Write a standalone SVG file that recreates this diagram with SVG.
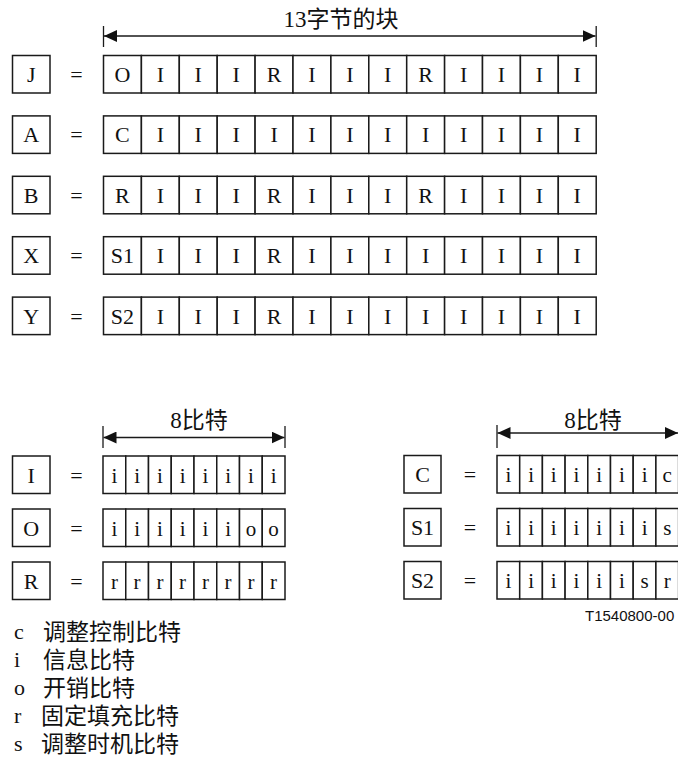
<svg xmlns="http://www.w3.org/2000/svg" width="678" height="763" viewBox="0 0 678 763">
<style>
.bx{fill:#fff;stroke:#1a1a1a;stroke-width:1.5}
.t{font-family:"Liberation Serif","Noto Sans CJK SC",serif;font-size:22px;fill:#111;text-anchor:middle}
.ts{font-family:"Liberation Serif","Noto Sans CJK SC",serif;font-size:21px;fill:#111;text-anchor:middle}
.hd{font-family:"Liberation Serif","Noto Sans CJK SC",serif;font-size:23px;fill:#111;text-anchor:middle}
.lg{font-family:"Liberation Serif",serif;font-size:22px;fill:#111}
.lc{font-family:"Noto Sans CJK SC",sans-serif;font-size:23px;fill:#111}
.ref{font-family:"Liberation Sans",Arial,sans-serif;font-size:15px;fill:#111}
.ln{stroke:#1a1a1a;stroke-width:1.3;fill:none}
</style>
<defs>
<marker id="ah" viewBox="0 0 13 12" refX="13" refY="6" markerWidth="13" markerHeight="12" markerUnits="userSpaceOnUse" orient="auto-start-reverse">
<path d="M0,0 L13,6 L0,12 z" fill="#111"/>
</marker>
</defs>

<g id="connectors">
<line class="ln" x1="104" y1="36" x2="595.5" y2="36" marker-start="url(#ah)" marker-end="url(#ah)"/>
<line class="ln" x1="103.5" y1="26" x2="103.5" y2="47"/>
<line class="ln" x1="596.2" y1="26" x2="596.2" y2="47"/>
<line class="ln" x1="103.5" y1="437.5" x2="284.5" y2="437.5" marker-start="url(#ah)" marker-end="url(#ah)"/>
<line class="ln" x1="103" y1="426" x2="103" y2="448"/>
<line class="ln" x1="285" y1="426" x2="285" y2="448"/>
<line class="ln" x1="497.5" y1="433" x2="678" y2="433" marker-start="url(#ah)" marker-end="url(#ah)"/>
<line class="ln" x1="497" y1="425" x2="497" y2="448"/>
</g>

<g id="titles">
<text class="hd" x="341" y="27">13字节的块</text>
<text class="hd" x="199" y="428">8比特</text>
<text class="hd" x="593" y="428">8比特</text>
</g>

<g id="row-J">
<rect class="bx" x="12.5" y="55.5" width="37.5" height="37.5"/><text class="t" x="31.2" y="82">J</text>
<text class="t" x="76.5" y="82">=</text>
<rect class="bx" x="103.5" y="55.5" width="37.9" height="37.5"/><text class="t" x="122.45" y="82">O</text>
<rect class="bx" x="141.4" y="55.5" width="37.9" height="37.5"/><text class="t" x="160.35" y="82">I</text>
<rect class="bx" x="179.3" y="55.5" width="37.9" height="37.5"/><text class="t" x="198.25" y="82">I</text>
<rect class="bx" x="217.2" y="55.5" width="37.9" height="37.5"/><text class="t" x="236.15" y="82">I</text>
<rect class="bx" x="255.1" y="55.5" width="37.9" height="37.5"/><text class="t" x="274.05" y="82">R</text>
<rect class="bx" x="293" y="55.5" width="37.9" height="37.5"/><text class="t" x="311.95" y="82">I</text>
<rect class="bx" x="330.9" y="55.5" width="37.9" height="37.5"/><text class="t" x="349.85" y="82">I</text>
<rect class="bx" x="368.8" y="55.5" width="37.9" height="37.5"/><text class="t" x="387.75" y="82">I</text>
<rect class="bx" x="406.7" y="55.5" width="37.9" height="37.5"/><text class="t" x="425.65" y="82">R</text>
<rect class="bx" x="444.6" y="55.5" width="37.9" height="37.5"/><text class="t" x="463.55" y="82">I</text>
<rect class="bx" x="482.5" y="55.5" width="37.9" height="37.5"/><text class="t" x="501.45" y="82">I</text>
<rect class="bx" x="520.4" y="55.5" width="37.9" height="37.5"/><text class="t" x="539.35" y="82">I</text>
<rect class="bx" x="558.3" y="55.5" width="37.9" height="37.5"/><text class="t" x="577.25" y="82">I</text>
</g>

<g id="row-A">
<rect class="bx" x="12.5" y="115.9" width="37.5" height="37.5"/><text class="t" x="31.2" y="142.4">A</text>
<text class="t" x="76.5" y="142.4">=</text>
<rect class="bx" x="103.5" y="115.9" width="37.9" height="37.5"/><text class="t" x="122.45" y="142.4">C</text>
<rect class="bx" x="141.4" y="115.9" width="37.9" height="37.5"/><text class="t" x="160.35" y="142.4">I</text>
<rect class="bx" x="179.3" y="115.9" width="37.9" height="37.5"/><text class="t" x="198.25" y="142.4">I</text>
<rect class="bx" x="217.2" y="115.9" width="37.9" height="37.5"/><text class="t" x="236.15" y="142.4">I</text>
<rect class="bx" x="255.1" y="115.9" width="37.9" height="37.5"/><text class="t" x="274.05" y="142.4">I</text>
<rect class="bx" x="293" y="115.9" width="37.9" height="37.5"/><text class="t" x="311.95" y="142.4">I</text>
<rect class="bx" x="330.9" y="115.9" width="37.9" height="37.5"/><text class="t" x="349.85" y="142.4">I</text>
<rect class="bx" x="368.8" y="115.9" width="37.9" height="37.5"/><text class="t" x="387.75" y="142.4">I</text>
<rect class="bx" x="406.7" y="115.9" width="37.9" height="37.5"/><text class="t" x="425.65" y="142.4">I</text>
<rect class="bx" x="444.6" y="115.9" width="37.9" height="37.5"/><text class="t" x="463.55" y="142.4">I</text>
<rect class="bx" x="482.5" y="115.9" width="37.9" height="37.5"/><text class="t" x="501.45" y="142.4">I</text>
<rect class="bx" x="520.4" y="115.9" width="37.9" height="37.5"/><text class="t" x="539.35" y="142.4">I</text>
<rect class="bx" x="558.3" y="115.9" width="37.9" height="37.5"/><text class="t" x="577.25" y="142.4">I</text>
</g>

<g id="row-B">
<rect class="bx" x="12.5" y="176.3" width="37.5" height="37.5"/><text class="t" x="31.2" y="202.8">B</text>
<text class="t" x="76.5" y="202.8">=</text>
<rect class="bx" x="103.5" y="176.3" width="37.9" height="37.5"/><text class="t" x="122.45" y="202.8">R</text>
<rect class="bx" x="141.4" y="176.3" width="37.9" height="37.5"/><text class="t" x="160.35" y="202.8">I</text>
<rect class="bx" x="179.3" y="176.3" width="37.9" height="37.5"/><text class="t" x="198.25" y="202.8">I</text>
<rect class="bx" x="217.2" y="176.3" width="37.9" height="37.5"/><text class="t" x="236.15" y="202.8">I</text>
<rect class="bx" x="255.1" y="176.3" width="37.9" height="37.5"/><text class="t" x="274.05" y="202.8">R</text>
<rect class="bx" x="293" y="176.3" width="37.9" height="37.5"/><text class="t" x="311.95" y="202.8">I</text>
<rect class="bx" x="330.9" y="176.3" width="37.9" height="37.5"/><text class="t" x="349.85" y="202.8">I</text>
<rect class="bx" x="368.8" y="176.3" width="37.9" height="37.5"/><text class="t" x="387.75" y="202.8">I</text>
<rect class="bx" x="406.7" y="176.3" width="37.9" height="37.5"/><text class="t" x="425.65" y="202.8">R</text>
<rect class="bx" x="444.6" y="176.3" width="37.9" height="37.5"/><text class="t" x="463.55" y="202.8">I</text>
<rect class="bx" x="482.5" y="176.3" width="37.9" height="37.5"/><text class="t" x="501.45" y="202.8">I</text>
<rect class="bx" x="520.4" y="176.3" width="37.9" height="37.5"/><text class="t" x="539.35" y="202.8">I</text>
<rect class="bx" x="558.3" y="176.3" width="37.9" height="37.5"/><text class="t" x="577.25" y="202.8">I</text>
</g>

<g id="row-X">
<rect class="bx" x="12.5" y="236.7" width="37.5" height="37.5"/><text class="t" x="31.2" y="263.2">X</text>
<text class="t" x="76.5" y="263.2">=</text>
<rect class="bx" x="103.5" y="236.7" width="37.9" height="37.5"/><text class="t" x="122.45" y="263.2">S1</text>
<rect class="bx" x="141.4" y="236.7" width="37.9" height="37.5"/><text class="t" x="160.35" y="263.2">I</text>
<rect class="bx" x="179.3" y="236.7" width="37.9" height="37.5"/><text class="t" x="198.25" y="263.2">I</text>
<rect class="bx" x="217.2" y="236.7" width="37.9" height="37.5"/><text class="t" x="236.15" y="263.2">I</text>
<rect class="bx" x="255.1" y="236.7" width="37.9" height="37.5"/><text class="t" x="274.05" y="263.2">R</text>
<rect class="bx" x="293" y="236.7" width="37.9" height="37.5"/><text class="t" x="311.95" y="263.2">I</text>
<rect class="bx" x="330.9" y="236.7" width="37.9" height="37.5"/><text class="t" x="349.85" y="263.2">I</text>
<rect class="bx" x="368.8" y="236.7" width="37.9" height="37.5"/><text class="t" x="387.75" y="263.2">I</text>
<rect class="bx" x="406.7" y="236.7" width="37.9" height="37.5"/><text class="t" x="425.65" y="263.2">I</text>
<rect class="bx" x="444.6" y="236.7" width="37.9" height="37.5"/><text class="t" x="463.55" y="263.2">I</text>
<rect class="bx" x="482.5" y="236.7" width="37.9" height="37.5"/><text class="t" x="501.45" y="263.2">I</text>
<rect class="bx" x="520.4" y="236.7" width="37.9" height="37.5"/><text class="t" x="539.35" y="263.2">I</text>
<rect class="bx" x="558.3" y="236.7" width="37.9" height="37.5"/><text class="t" x="577.25" y="263.2">I</text>
</g>

<g id="row-Y">
<rect class="bx" x="12.5" y="297.1" width="37.5" height="37.5"/><text class="t" x="31.2" y="323.6">Y</text>
<text class="t" x="76.5" y="323.6">=</text>
<rect class="bx" x="103.5" y="297.1" width="37.9" height="37.5"/><text class="t" x="122.45" y="323.6">S2</text>
<rect class="bx" x="141.4" y="297.1" width="37.9" height="37.5"/><text class="t" x="160.35" y="323.6">I</text>
<rect class="bx" x="179.3" y="297.1" width="37.9" height="37.5"/><text class="t" x="198.25" y="323.6">I</text>
<rect class="bx" x="217.2" y="297.1" width="37.9" height="37.5"/><text class="t" x="236.15" y="323.6">I</text>
<rect class="bx" x="255.1" y="297.1" width="37.9" height="37.5"/><text class="t" x="274.05" y="323.6">R</text>
<rect class="bx" x="293" y="297.1" width="37.9" height="37.5"/><text class="t" x="311.95" y="323.6">I</text>
<rect class="bx" x="330.9" y="297.1" width="37.9" height="37.5"/><text class="t" x="349.85" y="323.6">I</text>
<rect class="bx" x="368.8" y="297.1" width="37.9" height="37.5"/><text class="t" x="387.75" y="323.6">I</text>
<rect class="bx" x="406.7" y="297.1" width="37.9" height="37.5"/><text class="t" x="425.65" y="323.6">I</text>
<rect class="bx" x="444.6" y="297.1" width="37.9" height="37.5"/><text class="t" x="463.55" y="323.6">I</text>
<rect class="bx" x="482.5" y="297.1" width="37.9" height="37.5"/><text class="t" x="501.45" y="323.6">I</text>
<rect class="bx" x="520.4" y="297.1" width="37.9" height="37.5"/><text class="t" x="539.35" y="323.6">I</text>
<rect class="bx" x="558.3" y="297.1" width="37.9" height="37.5"/><text class="t" x="577.25" y="323.6">I</text>
</g>

<g id="byte-I">
<rect class="bx" x="12.5" y="456" width="37.5" height="37.5"/><text class="t" x="31.2" y="482.5">I</text>
<text class="t" x="76.5" y="482.5">=</text>
<rect class="bx" x="103" y="456" width="22.75" height="37.5"/><text class="ts" x="114.4" y="482.5">i</text>
<rect class="bx" x="125.75" y="456" width="22.75" height="37.5"/><text class="ts" x="137.1" y="482.5">i</text>
<rect class="bx" x="148.5" y="456" width="22.75" height="37.5"/><text class="ts" x="159.9" y="482.5">i</text>
<rect class="bx" x="171.25" y="456" width="22.75" height="37.5"/><text class="ts" x="182.6" y="482.5">i</text>
<rect class="bx" x="194" y="456" width="22.75" height="37.5"/><text class="ts" x="205.4" y="482.5">i</text>
<rect class="bx" x="216.75" y="456" width="22.75" height="37.5"/><text class="ts" x="228.1" y="482.5">i</text>
<rect class="bx" x="239.5" y="456" width="22.75" height="37.5"/><text class="ts" x="250.9" y="482.5">i</text>
<rect class="bx" x="262.25" y="456" width="22.75" height="37.5"/><text class="ts" x="273.6" y="482.5">i</text>
</g>

<g id="byte-O">
<rect class="bx" x="12.5" y="509" width="37.5" height="37.5"/><text class="t" x="31.2" y="535.5">O</text>
<text class="t" x="76.5" y="535.5">=</text>
<rect class="bx" x="103" y="509" width="22.75" height="37.5"/><text class="ts" x="114.4" y="535.5">i</text>
<rect class="bx" x="125.75" y="509" width="22.75" height="37.5"/><text class="ts" x="137.1" y="535.5">i</text>
<rect class="bx" x="148.5" y="509" width="22.75" height="37.5"/><text class="ts" x="159.9" y="535.5">i</text>
<rect class="bx" x="171.25" y="509" width="22.75" height="37.5"/><text class="ts" x="182.6" y="535.5">i</text>
<rect class="bx" x="194" y="509" width="22.75" height="37.5"/><text class="ts" x="205.4" y="535.5">i</text>
<rect class="bx" x="216.75" y="509" width="22.75" height="37.5"/><text class="ts" x="228.1" y="535.5">i</text>
<rect class="bx" x="239.5" y="509" width="22.75" height="37.5"/><text class="ts" x="250.9" y="535.5">o</text>
<rect class="bx" x="262.25" y="509" width="22.75" height="37.5"/><text class="ts" x="273.6" y="535.5">o</text>
</g>

<g id="byte-R">
<rect class="bx" x="12.5" y="562" width="37.5" height="37.5"/><text class="t" x="31.2" y="588.5">R</text>
<text class="t" x="76.5" y="588.5">=</text>
<rect class="bx" x="103" y="562" width="22.75" height="37.5"/><text class="ts" x="114.4" y="588.5">r</text>
<rect class="bx" x="125.75" y="562" width="22.75" height="37.5"/><text class="ts" x="137.1" y="588.5">r</text>
<rect class="bx" x="148.5" y="562" width="22.75" height="37.5"/><text class="ts" x="159.9" y="588.5">r</text>
<rect class="bx" x="171.25" y="562" width="22.75" height="37.5"/><text class="ts" x="182.6" y="588.5">r</text>
<rect class="bx" x="194" y="562" width="22.75" height="37.5"/><text class="ts" x="205.4" y="588.5">r</text>
<rect class="bx" x="216.75" y="562" width="22.75" height="37.5"/><text class="ts" x="228.1" y="588.5">r</text>
<rect class="bx" x="239.5" y="562" width="22.75" height="37.5"/><text class="ts" x="250.9" y="588.5">r</text>
<rect class="bx" x="262.25" y="562" width="22.75" height="37.5"/><text class="ts" x="273.6" y="588.5">r</text>
</g>

<g id="byte-C">
<rect class="bx" x="404" y="455.5" width="37" height="37.5"/><text class="t" x="422.5" y="482">C</text>
<text class="t" x="470" y="482">=</text>
<rect class="bx" x="497" y="455.5" width="22.7" height="37.5"/><text class="ts" x="508.35" y="482">i</text>
<rect class="bx" x="519.7" y="455.5" width="22.7" height="37.5"/><text class="ts" x="531.05" y="482">i</text>
<rect class="bx" x="542.4" y="455.5" width="22.7" height="37.5"/><text class="ts" x="553.75" y="482">i</text>
<rect class="bx" x="565.1" y="455.5" width="22.7" height="37.5"/><text class="ts" x="576.45" y="482">i</text>
<rect class="bx" x="587.8" y="455.5" width="22.7" height="37.5"/><text class="ts" x="599.15" y="482">i</text>
<rect class="bx" x="610.5" y="455.5" width="22.7" height="37.5"/><text class="ts" x="621.85" y="482">i</text>
<rect class="bx" x="633.2" y="455.5" width="22.7" height="37.5"/><text class="ts" x="644.55" y="482">i</text>
<rect class="bx" x="655.9" y="455.5" width="22.7" height="37.5"/><text class="ts" x="667.25" y="482">c</text>
</g>

<g id="byte-S1">
<rect class="bx" x="404" y="508.5" width="37" height="37.5"/><text class="t" x="422.5" y="535">S1</text>
<text class="t" x="470" y="535">=</text>
<rect class="bx" x="497" y="508.5" width="22.7" height="37.5"/><text class="ts" x="508.35" y="535">i</text>
<rect class="bx" x="519.7" y="508.5" width="22.7" height="37.5"/><text class="ts" x="531.05" y="535">i</text>
<rect class="bx" x="542.4" y="508.5" width="22.7" height="37.5"/><text class="ts" x="553.75" y="535">i</text>
<rect class="bx" x="565.1" y="508.5" width="22.7" height="37.5"/><text class="ts" x="576.45" y="535">i</text>
<rect class="bx" x="587.8" y="508.5" width="22.7" height="37.5"/><text class="ts" x="599.15" y="535">i</text>
<rect class="bx" x="610.5" y="508.5" width="22.7" height="37.5"/><text class="ts" x="621.85" y="535">i</text>
<rect class="bx" x="633.2" y="508.5" width="22.7" height="37.5"/><text class="ts" x="644.55" y="535">i</text>
<rect class="bx" x="655.9" y="508.5" width="22.7" height="37.5"/><text class="ts" x="667.25" y="535">s</text>
</g>

<g id="byte-S2">
<rect class="bx" x="404" y="561.5" width="37" height="37.5"/><text class="t" x="422.5" y="588">S2</text>
<text class="t" x="470" y="588">=</text>
<rect class="bx" x="497" y="561.5" width="22.7" height="37.5"/><text class="ts" x="508.35" y="588">i</text>
<rect class="bx" x="519.7" y="561.5" width="22.7" height="37.5"/><text class="ts" x="531.05" y="588">i</text>
<rect class="bx" x="542.4" y="561.5" width="22.7" height="37.5"/><text class="ts" x="553.75" y="588">i</text>
<rect class="bx" x="565.1" y="561.5" width="22.7" height="37.5"/><text class="ts" x="576.45" y="588">i</text>
<rect class="bx" x="587.8" y="561.5" width="22.7" height="37.5"/><text class="ts" x="599.15" y="588">i</text>
<rect class="bx" x="610.5" y="561.5" width="22.7" height="37.5"/><text class="ts" x="621.85" y="588">i</text>
<rect class="bx" x="633.2" y="561.5" width="22.7" height="37.5"/><text class="ts" x="644.55" y="588">s</text>
<rect class="bx" x="655.9" y="561.5" width="22.7" height="37.5"/><text class="ts" x="667.25" y="588">r</text>
</g>

<g id="figure-ref">
<text class="ref" x="585" y="621">T1540800-00</text>
</g>

<g id="legend">
<text class="lg" x="14" y="639">c</text><text class="lc" x="43" y="640">调整控制比特</text>
<text class="lg" x="14" y="667">i</text><text class="lc" x="43" y="668">信息比特</text>
<text class="lg" x="14" y="695">o</text><text class="lc" x="43" y="696">开销比特</text>
<text class="lg" x="14" y="723">r</text><text class="lc" x="41" y="724">固定填充比特</text>
<text class="lg" x="14" y="751">s</text><text class="lc" x="41" y="752">调整时机比特</text>
</g>
</svg>
